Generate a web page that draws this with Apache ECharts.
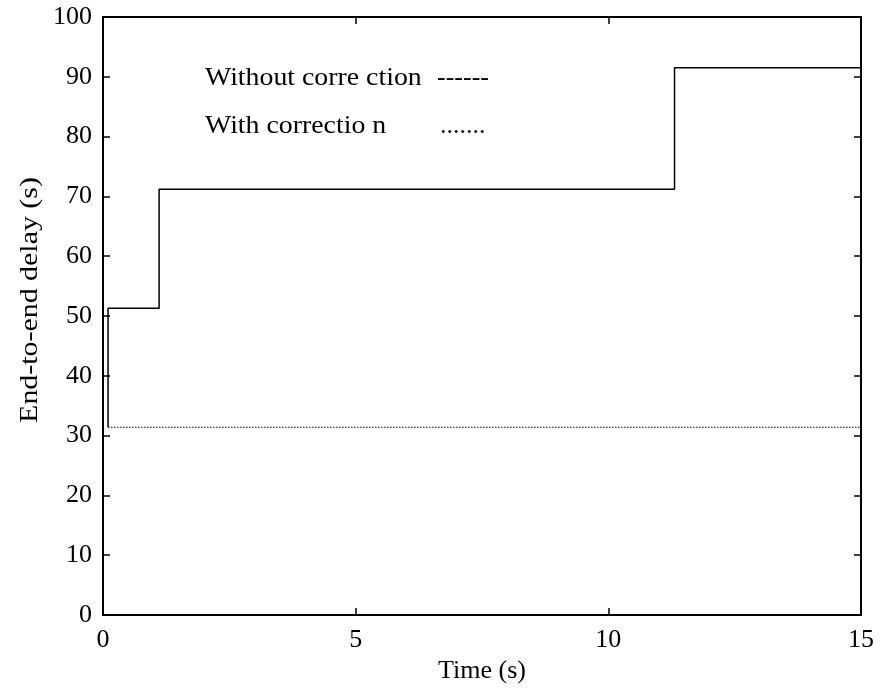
<!DOCTYPE html>
<html>
<head>
<meta charset="utf-8">
<script src="https://cdn.jsdelivr.net/npm/echarts@6/dist/echarts.min.js"></script>
<style>
  html, body { margin: 0; padding: 0; background: #fff; }
  #chart { width: 880px; height: 690px; }
</style>
</head>
<body>
<div id="chart"></div>
<script>
// Step response of end-to-end delay over time
const stepTimes = [0.1, 0.1, 1.11, 1.11, 11.31, 11.31, 15];
const stepDelays = [31.4, 51.3, 51.3, 71.2, 71.2, 91.5, 91.5];
const flatTimes = [0.1, 15];
const flatDelays = [31.4, 31.4];
const xTicks = [0, 5, 10, 15];
const yTicks = [0, 10, 20, 30, 40, 50, 60, 70, 80, 90, 100];

const FONT = '"Liberation Serif", "Times New Roman", serif';
const line = () => ({ show: true, onZero: false, lineStyle: { color: '#000', width: 2 } });
const tick = () => ({ show: true, inside: true, length: 7, lineStyle: { color: '#000', width: 1.5 } });

const chart = echarts.init(document.getElementById('chart'));
chart.setOption({
  animation: false,
  backgroundColor: '#fff',
  grid: { left: 103, top: 17, right: 19, bottom: 75 },
  xAxis: [
    {
      type: 'value', position: 'bottom', min: xTicks[0], max: xTicks[xTicks.length - 1], interval: 5,
      name: 'Time (s)', nameLocation: 'middle', nameGap: 43,
      nameTextStyle: { fontFamily: FONT, fontSize: 26, color: '#000' },
      axisLine: line(), axisTick: tick(), splitLine: { show: false },
      axisLabel: { fontFamily: FONT, fontSize: 26, color: '#000', margin: 12 }
    },
    {
      type: 'value', position: 'top', min: xTicks[0], max: xTicks[xTicks.length - 1], interval: 5,
      axisLine: line(), axisTick: tick(), splitLine: { show: false }, axisLabel: { show: false }
    }
  ],
  yAxis: [
    {
      type: 'value', position: 'left', min: yTicks[0], max: yTicks[yTicks.length - 1], interval: 10,
      axisLine: line(), axisTick: tick(), splitLine: { show: false },
      axisLabel: { fontFamily: FONT, fontSize: 26, color: '#000', margin: 11 }
    },
    {
      type: 'value', position: 'right', min: yTicks[0], max: yTicks[yTicks.length - 1], interval: 10,
      axisLine: line(), axisTick: tick(), splitLine: { show: false }, axisLabel: { show: false }
    }
  ],
  graphic: [
    {
      type: 'text', x: 30, y: 300, rotation: Math.PI / 2, scaleX: 1.15,
      style: { text: 'End-to-end delay (s)', font: '26px ' + FONT, fill: '#000', align: 'center', verticalAlign: 'middle' }
    },
    { type: 'text', x: 205, y: 78, scaleX: 1.07, style: { text: 'Without corre ction', font: '26px ' + FONT, fill: '#000', verticalAlign: 'middle' } },
    { type: 'text', x: 437, y: 78, style: { text: '------', font: '26px ' + FONT, fill: '#000', verticalAlign: 'middle' } },
    { type: 'text', x: 205, y: 126, scaleX: 1.07, style: { text: 'With correctio n', font: '26px ' + FONT, fill: '#000', verticalAlign: 'middle' } },
    { type: 'text', x: 440, y: 126, style: { text: '.......', font: '26px ' + FONT, fill: '#000', verticalAlign: 'middle' } }
  ],
  series: [
    {
      type: 'line', symbol: 'none',
      data: stepTimes.map((t, i) => [t, stepDelays[i]]),
      lineStyle: { color: '#000', width: 1.5 }
    },
    {
      type: 'line', symbol: 'none',
      data: flatTimes.map((t, i) => [t, flatDelays[i]]),
      lineStyle: { color: '#000', width: 1.2, type: [1.5, 1.5] }
    }
  ]
});
</script>
</body>
</html>
